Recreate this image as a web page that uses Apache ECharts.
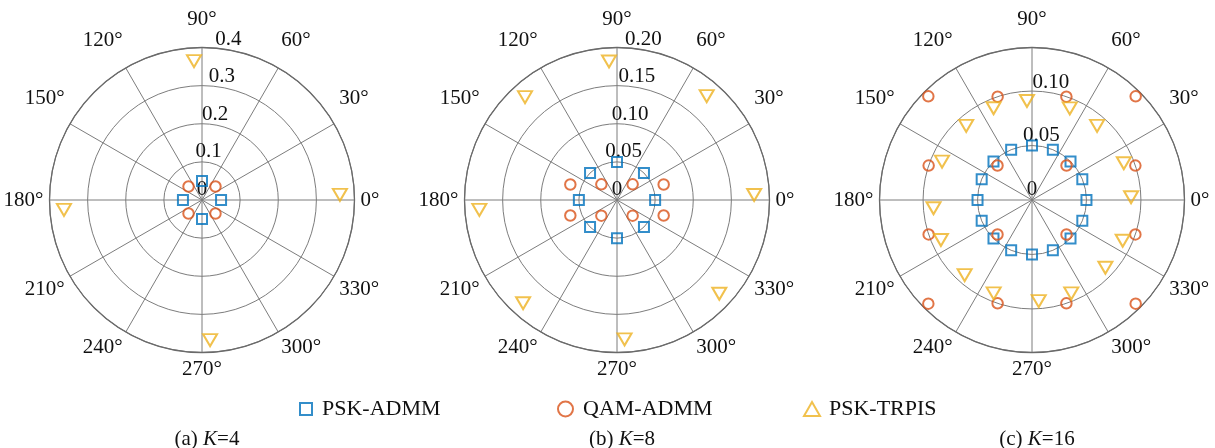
<!DOCTYPE html>
<html>
<head>
<meta charset="utf-8">
<script src="https://cdn.jsdelivr.net/npm/echarts@6/dist/echarts.min.js"></script>
<style>
html, body { margin: 0; padding: 0; background: #fff; }
#chart { width: 1215px; height: 448px; }
</style>
</head>
<body>
<div id="chart"></div>
<script>
// every point is [radius, angle in degrees]
var k4PskAdmm = [[0.05, 0], [0.05, 90], [0.05, 180], [0.05, 270]];
var k4QamAdmm = [[0.05, 45], [0.05, 135], [0.05, 225], [0.05, 315]];
var k4PskTrpis = [[0.362, 2.1], [0.365, 93.3], [0.363, 184.1], [0.368, 273.3]];

var k8PskAdmm = [[0.05, 0], [0.05, 45], [0.05, 90], [0.05, 135],
  [0.05, 180], [0.05, 225], [0.05, 270], [0.05, 315]];
var k8QamAdmm = [[0.029, 45], [0.029, 135], [0.029, 225], [0.029, 315],
  [0.0645, 18.4], [0.0645, 161.6], [0.0645, 198.4], [0.0645, 341.6]];
var k8PskTrpis = [[0.180, 2.1], [0.180, 49.2], [0.182, 93.3], [0.181, 131.8],
  [0.181, 184.1], [0.183, 227.7], [0.183, 273.1], [0.182, 317.5]];

var k16PskAdmm = [[0.05, 0], [0.05, 22.5], [0.05, 45], [0.05, 67.5],
  [0.05, 90], [0.05, 112.5], [0.05, 135], [0.05, 157.5],
  [0.05, 180], [0.05, 202.5], [0.05, 225], [0.05, 247.5],
  [0.05, 270], [0.05, 292.5], [0.05, 315], [0.05, 337.5]];
var k16QamAdmm = [[0.0448, 45], [0.0448, 135], [0.0448, 225], [0.0448, 315],
  [0.100, 18.4], [0.100, 71.6], [0.100, 108.4], [0.100, 161.6],
  [0.100, 198.4], [0.100, 251.6], [0.100, 288.4], [0.100, 341.6],
  [0.1346, 45], [0.1346, 135], [0.1346, 225], [0.1346, 315]];
var k16PskTrpis = [[0.091, 1.6], [0.0908, 21.8], [0.0905, 48.7], [0.091, 67.6],
  [0.091, 92.9], [0.0913, 112.7], [0.091, 131.6], [0.0898, 156.9],
  [0.0907, 184.8], [0.0913, 203.7], [0.0926, 228.1], [0.0927, 247.7],
  [0.093, 273.8], [0.093, 292.8], [0.0917, 317.3], [0.0913, 335.8]];

var seriesNames = ['PSK-ADMM', 'QAM-ADMM', 'PSK-TRPIS'];
var captions = ['(a)', '(b)', '(c)'];
var userCounts = [4, 8, 16];
var radiusMax = [0.4, 0.2, 0.14];
var radiusStep = [0.1, 0.05, 0.05];
var labelDigits = [1, 2, 2];

var pointSets = [
  [k4PskAdmm, k4QamAdmm, k4PskTrpis],
  [k8PskAdmm, k8QamAdmm, k8PskTrpis],
  [k16PskAdmm, k16QamAdmm, k16PskTrpis]
];

var FONT = 'Liberation Serif';
var TEXT = '#111';
var GRID = '#7d7d7d';
var colors = ['#0072BD', '#D95319', '#EDB120'];
var centersX = [202, 617, 1032];
var centerY = 200;
var R = 152.5;

var chart = echarts.init(document.getElementById('chart'));

var polar = [], angleAxis = [], radiusAxis = [], series = [], title = [];

centersX.forEach(function (cx, i) {
  var main = 2 * i, over = 2 * i + 1;
  var max = radiusMax[i];
  polar.push({center: [cx, centerY], radius: [0, R]});
  // second polar only carries the r labels, turned to 80 deg like matlab
  polar.push({center: [cx, centerY], radius: [0, R]});

  angleAxis.push({
    polarIndex: main, type: 'value', min: 0, max: 360, interval: 30,
    startAngle: 0, clockwise: false,
    axisLine: {lineStyle: {color: '#6a6a6a', width: 1.3}},
    axisTick: {show: false},
    axisLabel: {
      margin: 6, padding: [0, 0, 12, 0],
      fontFamily: FONT, fontSize: 21, color: TEXT,
      formatter: function (v) { return v >= 360 ? '' : v + '°'; }
    },
    splitLine: {lineStyle: {color: GRID, width: 1}}
  });
  angleAxis.push({
    polarIndex: over, type: 'value', min: 0, max: 360, startAngle: 80,
    axisLine: {show: false}, axisTick: {show: false},
    axisLabel: {show: false}, splitLine: {show: false}
  });

  radiusAxis.push({
    polarIndex: main, type: 'value', min: 0, max: max, interval: radiusStep[i],
    axisLine: {show: false}, axisTick: {show: false}, axisLabel: {show: false},
    splitLine: {lineStyle: {color: GRID, width: 1}}
  });
  radiusAxis.push({
    polarIndex: over, type: 'value', min: 0, max: max, interval: radiusStep[i],
    axisLine: {show: false}, axisTick: {show: false}, splitLine: {show: false},
    axisLabel: {
      margin: 0, align: 'center', verticalAlign: 'bottom',
      fontFamily: FONT, fontSize: 21, color: TEXT,
      formatter: function (v) {
        if (v === 0) return '0';
        if (Math.abs(v / radiusStep[i] - Math.round(v / radiusStep[i])) > 1e-6) return '';
        return v.toFixed(labelDigits[i]);
      }
    }
  });

  var sets = pointSets[i];
  series.push({
    type: 'scatter', coordinateSystem: 'polar', polarIndex: main,
    name: seriesNames[0], symbol: 'rect', symbolSize: 10,
    itemStyle: {color: 'rgba(0,0,0,0)', borderColor: colors[0], borderWidth: 2},
    data: sets[0]
  });
  series.push({
    type: 'scatter', coordinateSystem: 'polar', polarIndex: main,
    name: seriesNames[1], symbol: 'circle', symbolSize: 10.5,
    itemStyle: {color: 'rgba(0,0,0,0)', borderColor: colors[1], borderWidth: 2},
    data: sets[1]
  });
  series.push({
    type: 'scatter', coordinateSystem: 'polar', polarIndex: main,
    name: seriesNames[2], symbol: 'triangle', symbolSize: [14, 12], symbolRotate: 180,
    itemStyle: {color: 'rgba(0,0,0,0)', borderColor: colors[2], borderWidth: 2},
    data: sets[2]
  });

  title.push({
    text: captions[i] + ' {k|K}=' + userCounts[i],
    left: cx, top: 424, textAlign: 'center',
    textStyle: {
      fontFamily: FONT, fontSize: 21, fontWeight: 'normal', color: TEXT,
      rich: {k: {fontFamily: FONT, fontSize: 21, fontStyle: 'italic', color: TEXT}}
    }
  });
});

// legend entries sit at fixed columns, like the matlab legend
var legendLeft = [294, 552, 798];
var legendIcon = [[12, 12], [15, 15], [16, 14]];
var legendTextGap = [5, 5, 4];
var legend = seriesNames.map(function (name, j) {
  return {
    data: [{name: name, icon: j === 2 ? 'triangle' : undefined}],
    left: legendLeft[j], top: 393, orient: 'horizontal',
    itemWidth: legendIcon[j][0], itemHeight: legendIcon[j][1],
    symbolRotate: 0, selectedMode: false,
    itemStyle: {color: 'rgba(0,0,0,0)', borderColor: colors[j], borderWidth: 2},
    textStyle: {fontFamily: FONT, fontSize: 22, color: TEXT, padding: [0, 0, 0, legendTextGap[j]]}
  };
});

chart.setOption({
  animation: false,
  backgroundColor: '#fff',
  title: title,
  legend: legend,
  polar: polar,
  angleAxis: angleAxis,
  radiusAxis: radiusAxis,
  series: series
});
</script>
</body>
</html>
